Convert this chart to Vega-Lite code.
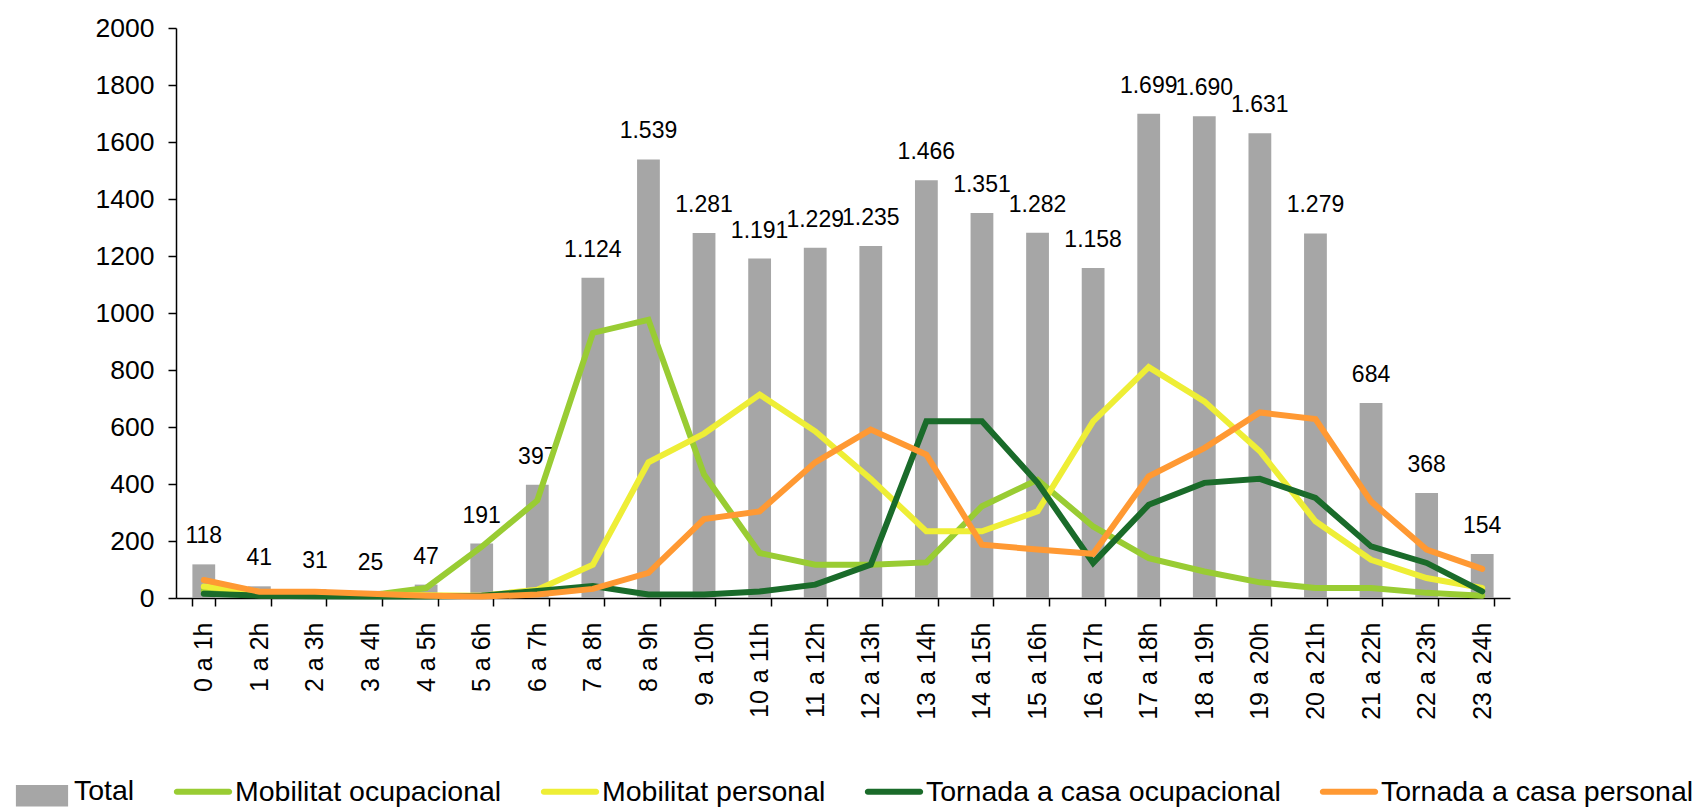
{
  "$schema": "https://vega.github.io/schema/vega-lite/v6.json",
  "autosize": {"type": "none"},
  "width": 1334,
  "height": 570,
  "padding": {"left": 176, "top": 28, "right": 192, "bottom": 209},
  "background": "white",
  "config": {
    "font": "Liberation Sans",
    "view": {"stroke": null},
    "locale": {"number": {"decimal": ",", "thousands": ".", "grouping": [3], "currency": ["", " €"]}}
  },
  "data": {
    "values": [
      {"hora": "0 a 1h", "Total": 118, "Mobilitat ocupacional": 25, "Mobilitat personal": 40, "Tornada a casa ocupacional": 15, "Tornada a casa personal": 63},
      {"hora": "1 a 2h", "Total": 41, "Mobilitat ocupacional": 10, "Mobilitat personal": 22, "Tornada a casa ocupacional": 8, "Tornada a casa personal": 22},
      {"hora": "2 a 3h", "Total": 31, "Mobilitat ocupacional": 8, "Mobilitat personal": 18, "Tornada a casa ocupacional": 6, "Tornada a casa personal": 22},
      {"hora": "3 a 4h", "Total": 25, "Mobilitat ocupacional": 10, "Mobilitat personal": 12, "Tornada a casa ocupacional": 5, "Tornada a casa personal": 15},
      {"hora": "4 a 5h", "Total": 47, "Mobilitat ocupacional": 35, "Mobilitat personal": 10, "Tornada a casa ocupacional": 5, "Tornada a casa personal": 8},
      {"hora": "5 a 6h", "Total": 191, "Mobilitat ocupacional": 180, "Mobilitat personal": 8, "Tornada a casa ocupacional": 8, "Tornada a casa personal": 5},
      {"hora": "6 a 7h", "Total": 397, "Mobilitat ocupacional": 342, "Mobilitat personal": 29, "Tornada a casa ocupacional": 25, "Tornada a casa personal": 12},
      {"hora": "7 a 8h", "Total": 1124, "Mobilitat ocupacional": 930, "Mobilitat personal": 117, "Tornada a casa ocupacional": 42, "Tornada a casa personal": 32},
      {"hora": "8 a 9h", "Total": 1539, "Mobilitat ocupacional": 976, "Mobilitat personal": 476, "Tornada a casa ocupacional": 12, "Tornada a casa personal": 88},
      {"hora": "9 a 10h", "Total": 1281, "Mobilitat ocupacional": 433, "Mobilitat personal": 577, "Tornada a casa ocupacional": 12, "Tornada a casa personal": 277},
      {"hora": "10 a 11h", "Total": 1191, "Mobilitat ocupacional": 158, "Mobilitat personal": 714, "Tornada a casa ocupacional": 23, "Tornada a casa personal": 304},
      {"hora": "11 a 12h", "Total": 1229, "Mobilitat ocupacional": 117, "Mobilitat personal": 585, "Tornada a casa ocupacional": 47, "Tornada a casa personal": 476},
      {"hora": "12 a 13h", "Total": 1235, "Mobilitat ocupacional": 117, "Mobilitat personal": 418, "Tornada a casa ocupacional": 117, "Tornada a casa personal": 591},
      {"hora": "13 a 14h", "Total": 1466, "Mobilitat ocupacional": 125, "Mobilitat personal": 234, "Tornada a casa ocupacional": 620, "Tornada a casa personal": 503},
      {"hora": "14 a 15h", "Total": 1351, "Mobilitat ocupacional": 322, "Mobilitat personal": 234, "Tornada a casa ocupacional": 620, "Tornada a casa personal": 187},
      {"hora": "15 a 16h", "Total": 1282, "Mobilitat ocupacional": 415, "Mobilitat personal": 304, "Tornada a casa ocupacional": 404, "Tornada a casa personal": 170},
      {"hora": "16 a 17h", "Total": 1158, "Mobilitat ocupacional": 251, "Mobilitat personal": 620, "Tornada a casa ocupacional": 123, "Tornada a casa personal": 155},
      {"hora": "17 a 18h", "Total": 1699, "Mobilitat ocupacional": 140, "Mobilitat personal": 810, "Tornada a casa ocupacional": 327, "Tornada a casa personal": 427},
      {"hora": "18 a 19h", "Total": 1690, "Mobilitat ocupacional": 93, "Mobilitat personal": 690, "Tornada a casa ocupacional": 404, "Tornada a casa personal": 526},
      {"hora": "19 a 20h", "Total": 1631, "Mobilitat ocupacional": 55, "Mobilitat personal": 515, "Tornada a casa ocupacional": 418, "Tornada a casa personal": 651},
      {"hora": "20 a 21h", "Total": 1279, "Mobilitat ocupacional": 35, "Mobilitat personal": 269, "Tornada a casa ocupacional": 351, "Tornada a casa personal": 628},
      {"hora": "21 a 22h", "Total": 684, "Mobilitat ocupacional": 35, "Mobilitat personal": 134, "Tornada a casa ocupacional": 181, "Tornada a casa personal": 339},
      {"hora": "22 a 23h", "Total": 368, "Mobilitat ocupacional": 18, "Mobilitat personal": 70, "Tornada a casa ocupacional": 123, "Tornada a casa personal": 170},
      {"hora": "23 a 24h", "Total": 154, "Mobilitat ocupacional": 8, "Mobilitat personal": 35, "Tornada a casa ocupacional": 23, "Tornada a casa personal": 102}
    ]
  },
  "encoding": {
    "x": {
      "field": "hora", "type": "nominal", "sort": null, "title": null,
      "scale": {"paddingInner": 0.59, "paddingOuter": 0.295},
      "axis": {
        "labelAngle": -90, "labelAlign": "right", "labelBaseline": "middle",
        "labelFontSize": 25, "labelColor": "black", "labelPadding": 16,
        "tickBand": "extent", "tickSize": 8, "tickColor": "black", "tickWidth": 1.5,
        "domainColor": "black", "domainWidth": 1.5, "grid": false
      }
    }
  },
  "layer": [
    {
      "mark": {"type": "bar"},
      "encoding": {
        "y": {
          "field": "Total", "type": "quantitative", "title": null,
          "scale": {"domain": [0, 2000], "nice": false},
          "axis": {
            "values": [0, 200, 400, 600, 800, 1000, 1200, 1400, 1600, 1800, 2000],
            "format": "d", "labelFontSize": 26.5, "labelColor": "black", "labelPadding": 14,
            "tickSize": 8, "tickColor": "black", "tickWidth": 1.5,
            "domainColor": "black", "domainWidth": 1.5, "grid": false
          }
        },
        "color": {
          "datum": "Total",
          "type": "nominal",
          "scale": {
            "domain": ["Total", "Mobilitat ocupacional", "Mobilitat personal", "Tornada a casa ocupacional", "Tornada a casa personal"],
            "range": ["#A6A6A6", "#99CC33", "#EEEE36", "#1A6B2A", "#FF9933"]
          },
          "legend": {
            "title": null,
            "orient": "none",
            "legendX": -163,
            "legendY": 734,
            "direction": "horizontal",
            "columns": 5,
            "columnPadding": 38,
            "labelFontSize": 28.5,
            "labelColor": "black",
            "labelLimit": 600,
            "labelOffset": 3,
            "symbolSize": 3364,
            "encode": {
              "symbols": {
                "update": {
                  "shape": {"signal": "datum.value === 'Total' ? 'M-0.9,-0.22H0.9V0.52H-0.9Z' : 'M-0.9,-0.105H0.9A0.105,0.105,0,0,1,0.9,0.105H-0.9A0.105,0.105,0,0,1,-0.9,-0.105Z'"},
                  "fill": {"signal": "scale('color', datum.value)"},
                  "stroke": {"value": "transparent"},
                  "strokeWidth": {"value": 0},
                  "size": {"value": 3364},
                  "opacity": {"value": 1}
                }
              }
            }
          }
        }
      }
    },
    {
      "mark": {"type": "text", "fontSize": 23, "baseline": "alphabetic", "dy": -21, "color": "black"},
      "encoding": {
        "y": {"field": "Total", "type": "quantitative"},
        "text": {"field": "Total", "type": "quantitative", "format": ",d"}
      }
    },
    {
      "transform": [
        {"fold": ["Mobilitat ocupacional", "Mobilitat personal", "Tornada a casa ocupacional", "Tornada a casa personal"], "as": ["serie", "valor"]}
      ],
      "mark": {"type": "line", "strokeWidth": 6, "strokeCap": "round"},
      "encoding": {
        "y": {"field": "valor", "type": "quantitative"},
        "color": {"field": "serie", "type": "nominal", "legend": null}
      }
    }
  ]
}
